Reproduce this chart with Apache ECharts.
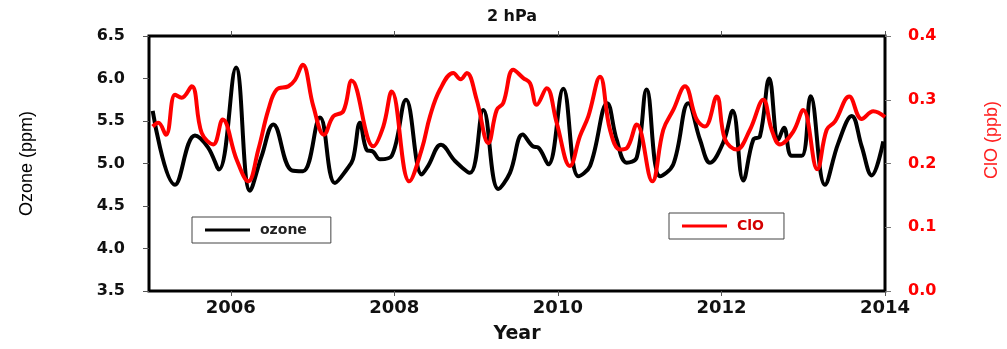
<!DOCTYPE html>
<html>
<head>
<meta charset="utf-8">
<script src="https://cdn.jsdelivr.net/npm/echarts@6/dist/echarts.min.js"></script>
<style>
html,body{margin:0;padding:0;background:#fff;}
#chart{width:1007px;height:349px;}
</style>
</head>
<body>
<div id="chart"></div>
<script>
var chartTitle = '2 hPa';
var yearTicks = [2006, 2008, 2010, 2012, 2014];

var ozoneYears = [2005.045, 2005.318, 2005.562, 2005.721, 2005.856, 2006.064, 2006.235, 2006.378, 2006.520, 2006.745,
  2006.883, 2007.091, 2007.274, 2007.418, 2007.494, 2007.580, 2007.662, 2007.739, 2007.825, 2007.968,
  2008.143, 2008.335, 2008.412, 2008.571, 2008.742, 2008.925, 2009.088, 2009.271, 2009.414, 2009.570,
  2009.699, 2009.757, 2009.883, 2010.066, 2010.250, 2010.393, 2010.604, 2010.719, 2010.841, 2010.964,
  2011.086, 2011.249, 2011.411, 2011.595, 2011.738, 2011.860, 2012.023, 2012.137, 2012.267, 2012.389,
  2012.471, 2012.585, 2012.695, 2012.765, 2012.859, 2012.981, 2013.091, 2013.266, 2013.429, 2013.593,
  2013.715, 2013.837, 2013.979];
var ozoneValues = [5.62, 4.75, 5.33, 5.19, 4.93, 6.13, 4.68, 5.09, 5.46, 4.92,
  4.91, 5.54, 4.77, 4.93, 5.05, 5.48, 5.16, 5.14, 5.05, 5.09,
  5.75, 4.87, 4.97, 5.22, 5.03, 4.89, 5.63, 4.70, 4.89, 5.34,
  5.20, 5.19, 4.99, 5.88, 4.85, 4.97, 5.71, 5.28, 5.01, 5.07,
  5.87, 4.85, 4.99, 5.71, 5.28, 5.01, 5.25, 5.62, 4.80, 5.28,
  5.32, 6.00, 5.28, 5.42, 5.09, 5.09, 5.79, 4.75, 5.24, 5.56,
  5.20, 4.86, 5.26];

var cloYears = [2005.045, 2005.114, 2005.208, 2005.318, 2005.400, 2005.522, 2005.644, 2005.786, 2005.901, 2006.072,
  2006.214, 2006.337, 2006.459, 2006.562, 2006.703, 2006.785, 2006.879, 2007.009, 2007.140, 2007.254,
  2007.376, 2007.479, 2007.743, 2007.865, 2007.968, 2008.183, 2008.335, 2008.436, 2008.558, 2008.721,
  2008.811, 2008.885, 2009.007, 2009.149, 2009.252, 2009.332, 2009.455, 2009.577, 2009.659, 2009.741,
  2009.863, 2009.985, 2010.148, 2010.270, 2010.372, 2010.515, 2010.637, 2010.759, 2010.841, 2010.964,
  2011.154, 2011.289, 2011.411, 2011.554, 2011.697, 2011.799, 2011.942, 2012.043, 2012.186, 2012.349,
  2012.512, 2012.614, 2012.716, 2012.878, 2013.000, 2013.172, 2013.287, 2013.389, 2013.563, 2013.715,
  2013.857, 2014.000];
var cloValues = [0.258, 0.264, 0.245, 0.308, 0.303, 0.321, 0.248, 0.230, 0.269, 0.206,
  0.172, 0.222, 0.284, 0.316, 0.321, 0.331, 0.355, 0.290, 0.245, 0.274,
  0.282, 0.330, 0.227, 0.258, 0.313, 0.172, 0.222, 0.274, 0.316, 0.342,
  0.332, 0.342, 0.300, 0.232, 0.284, 0.295, 0.347, 0.334, 0.326, 0.292,
  0.318, 0.264, 0.196, 0.243, 0.274, 0.336, 0.253, 0.222, 0.224, 0.261,
  0.172, 0.253, 0.284, 0.321, 0.269, 0.258, 0.305, 0.238, 0.222, 0.253,
  0.300, 0.253, 0.230, 0.250, 0.284, 0.191, 0.253, 0.266, 0.305, 0.270,
  0.282, 0.273];

function pairs(xs, ys) { return xs.map(function (x, i) { return [x, ys[i]]; }); }

var chart = echarts.init(document.getElementById('chart'), null, {renderer: 'canvas'});
var tickFont = {fontFamily: 'DejaVu Sans', fontWeight: 'bold', fontSize: 16};
chart.setOption({
  animation: false,
  backgroundColor: '#fff',
  title: {
    text: chartTitle, left: 507, top: 4, textAlign: 'center',
    textStyle: {fontFamily: 'DejaVu Sans', fontWeight: 'bold', fontSize: 16, color: '#111'}
  },
  grid: {left: 149, right: 122, top: 36, bottom: 57, show: true, borderColor: '#000', borderWidth: 3, backgroundColor: 'transparent'},
  legend: [
    {
      data: ['ozone'], left: 192, top: 217, orient: 'horizontal',
      icon: 'rect', itemWidth: 45, itemHeight: 3,
      padding: [6, 24, 6, 13], borderColor: '#444', borderWidth: 1, borderRadius: 0,
      textStyle: {fontFamily: 'DejaVu Sans', fontWeight: 'bold', fontSize: 14, color: '#222', padding: [0, 0, 0, 5]}
    },
    {
      data: ['ClO'], left: 669, top: 213, orient: 'horizontal',
      icon: 'rect', itemWidth: 45, itemHeight: 3,
      padding: [6, 20, 6, 13], borderColor: '#444', borderWidth: 1, borderRadius: 0,
      textStyle: {fontFamily: 'DejaVu Sans', fontWeight: 'bold', fontSize: 14, color: '#d40000', padding: [0, 0, 0, 5]}
    }
  ],
  xAxis: [
    {
      type: 'value', min: 2005, max: 2014, position: 'bottom',
      name: 'Year', nameLocation: 'middle', nameGap: 34,
      nameTextStyle: {fontFamily: 'DejaVu Sans', fontWeight: 'bold', fontSize: 19, color: '#111'},
      axisLine: {show: false},
      axisTick: {show: true, customValues: yearTicks, length: 5, lineStyle: {color: '#555', width: 1}},
      axisLabel: {show: true, customValues: yearTicks, margin: 8, color: '#111', fontFamily: 'DejaVu Sans', fontWeight: 'bold', fontSize: 18, formatter: function (v) { return String(v); }},
      splitLine: {show: false}
    },
    {
      type: 'value', min: 2005, max: 2014, position: 'top',
      axisLine: {show: false},
      axisTick: {show: true, customValues: yearTicks, length: 5, lineStyle: {color: '#555', width: 1}},
      axisLabel: {show: false},
      splitLine: {show: false}
    }
  ],
  yAxis: [
    {
      type: 'value', min: 3.5, max: 6.5, interval: 0.5, position: 'left',
      name: 'Ozone (ppm)', nameLocation: 'middle', nameGap: 113, nameRotate: 90,
      nameTextStyle: {fontFamily: 'Liberation Sans', fontSize: 18, color: '#000'},
      axisLine: {show: false},
      axisTick: {show: true, length: 6, lineStyle: {color: '#555', width: 1}},
      axisLabel: Object.assign({margin: 24, color: '#111', formatter: function (v) { return v.toFixed(1); }}, tickFont),
      splitLine: {show: false}
    },
    {
      type: 'value', min: 0, max: 0.4, interval: 0.1, position: 'right',
      axisLine: {show: false},
      axisTick: {show: true, length: 6, lineStyle: {color: '#777', width: 1}},
      axisLabel: Object.assign({margin: 23, color: '#ff0000', formatter: function (v) { return v.toFixed(1); }}, tickFont),
      splitLine: {show: false}
    }
  ],
  graphic: [
    {
      type: 'text', x: 992, y: 140, rotation: Math.PI / 2,
      style: {text: 'ClO (ppb)', fill: '#ff2020', fontFamily: 'Liberation Sans', fontSize: 18, align: 'center', verticalAlign: 'middle'}
    }
  ],
  series: [
    {
      name: 'ozone', type: 'line', xAxisIndex: 0, yAxisIndex: 0,
      data: pairs(ozoneYears, ozoneValues),
      smooth: 0.4, showSymbol: false, symbol: 'none',
      lineStyle: {color: '#000', width: 4}, itemStyle: {color: '#000'}
    },
    {
      name: 'ClO', type: 'line', xAxisIndex: 0, yAxisIndex: 1,
      data: pairs(cloYears, cloValues),
      smooth: 0.4, showSymbol: false, symbol: 'none',
      lineStyle: {color: '#ff0000', width: 4}, itemStyle: {color: '#ff0000'}
    }
  ]
});
</script>
</body>
</html>
